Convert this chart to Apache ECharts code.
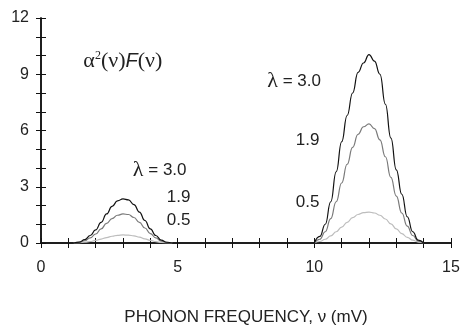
<!DOCTYPE html>
<html><head><meta charset="utf-8">
<script src="https://cdn.jsdelivr.net/npm/echarts@6/dist/echarts.min.js"></script>
<style>html,body{margin:0;padding:0;background:#fff}#c{width:461px;height:326px}</style>
</head><body><div id="c"></div>
<script>
const xLow = [1.2,1.4,1.6,1.8,2.0,2.2,2.4,2.6,2.8,3.0,3.2,3.4,3.6,3.8,4.0,4.2,4.4,4.6,4.8];
const lowL30 = [0,0.05,0.18,0.4,0.7,1.1,1.55,1.95,2.25,2.35,2.3,2.05,1.65,1.2,0.75,0.4,0.15,0.04,0];
const lowL19 = [0,0.03,0.12,0.27,0.48,0.75,1.05,1.3,1.48,1.55,1.52,1.36,1.1,0.8,0.5,0.27,0.1,0.03,0];
const lowL05 = [0,0.01,0.04,0.08,0.14,0.21,0.29,0.36,0.41,0.43,0.42,0.38,0.31,0.22,0.14,0.07,0.03,0.01,0];
const xHigh = [10.0,10.2,10.4,10.6,10.8,11.0,11.2,11.4,11.6,11.8,12.0,12.2,12.4,12.6,12.8,13.0,13.2,13.4,13.6,13.8,14.0];
const highL30 = [0,0.35,1.0,2.2,3.8,5.4,6.8,8.0,9.1,9.6,10.05,9.7,9.0,7.4,5.6,3.9,2.6,1.4,0.6,0.15,0];
const highL19 = [0,0.2,0.6,1.3,2.2,3.2,4.2,5.1,5.8,6.2,6.35,6.1,5.5,4.6,3.5,2.5,1.6,0.9,0.4,0.1,0];
const highL05 = [0,0.08,0.2,0.38,0.6,0.85,1.1,1.35,1.52,1.62,1.65,1.6,1.48,1.28,1.02,0.75,0.5,0.3,0.15,0.05,0];
const xTicks = [0,5,10,15];
const yTicks = [0,3,6,9,12];
const annotations = [
  {x:1.55, y:9.7, text:'{g|α}{s|2}{g|(ν)}{i|F}{g|(ν)}'},
  {x:3.36, y:3.87, text:'{l|λ} = 3.0'},
  {x:4.6, y:2.45, text:'1.9'},
  {x:4.6, y:1.23, text:'0.5'},
  {x:8.28, y:8.64, text:'{l|λ} = 3.0'},
  {x:9.32, y:5.49, text:'1.9'},
  {x:9.32, y:2.19, text:'0.5'}
];
const pairs = (xs, ys) => xs.map((x,i)=>[x, ys[i]]);
const chart = echarts.init(document.getElementById('c'));
const axisLine = {show:true, lineStyle:{color:'#111', width:1.5}};
const tick = {inside:true, length:5, lineStyle:{color:'#111', width:1}};
const lineSeries = (data, color) => ({type:'line', data, symbol:'none', smooth:true, smoothMonotone:'x', lineStyle:{color, width:1.2}, silent:true, xAxisIndex:0, yAxisIndex:0});
chart.setOption({
  animation:false,
  grid:{left:41, right:10, top:18, bottom:83, outerBoundsMode:'none', containLabel:false},
  xAxis:[
    {type:'value', min:0, max:15, interval:1, position:'bottom',
     axisLine, axisTick:tick,
     axisLabel:{color:'#222', fontSize:16, fontFamily:'Liberation Sans', margin:17, formatter:v=>xTicks.includes(v)?String(v):''},
     splitLine:{show:false},
     name:'PHONON FREQUENCY, ν (mV)', nameLocation:'middle', nameGap:66,
     nameTextStyle:{color:'#222', fontSize:17, fontFamily:'Liberation Sans'}},
    {type:'value', min:0, max:15, interval:1, position:'top',
     axisLine, axisTick:tick,
     axisLabel:{show:false}, splitLine:{show:false}}
  ],
  yAxis:[
    {type:'value', min:0, max:12, interval:1, position:'left',
     axisLine, axisTick:tick,
     axisLabel:{color:'#222', fontSize:16, fontFamily:'Liberation Sans', margin:12, formatter:v=>yTicks.includes(v)?String(v):''},
     splitLine:{show:false}},
    {type:'value', min:0, max:12, interval:1, position:'right',
     axisLine, axisTick:tick,
     axisLabel:{show:false}, splitLine:{show:false}}
  ],
  series:[
    lineSeries(pairs(xLow, lowL05), '#bdbdbd'),
    lineSeries(pairs(xLow, lowL19), '#7a7a7a'),
    lineSeries(pairs(xLow, lowL30), '#111'),
    lineSeries(pairs(xHigh, highL05), '#bdbdbd'),
    lineSeries(pairs(xHigh, highL19), '#7a7a7a'),
    lineSeries(pairs(xHigh, highL30), '#111')
  ]
});
const rich = {
  g:{fontFamily:'Liberation Serif', fontSize:22, color:'#222'},
  s:{fontFamily:'Liberation Serif', fontSize:12, color:'#222', verticalAlign:'top', padding:[0,0,10,0]},
  i:{fontFamily:'Liberation Sans', fontStyle:'italic', fontSize:20, color:'#222'},
  l:{fontFamily:'Liberation Serif', fontSize:22, color:'#222'}
};
chart.setOption({
  graphic: annotations.map(a => {
    const p = chart.convertToPixel({xAxisIndex:0, yAxisIndex:0}, [a.x, a.y]);
    return {type:'text', x:p[0], y:p[1], silent:true,
      style:{text:a.text, rich, fill:'#222', fontFamily:'Liberation Sans', fontSize:17, verticalAlign:'middle', align:'left'}};
  })
});
</script></body></html>
